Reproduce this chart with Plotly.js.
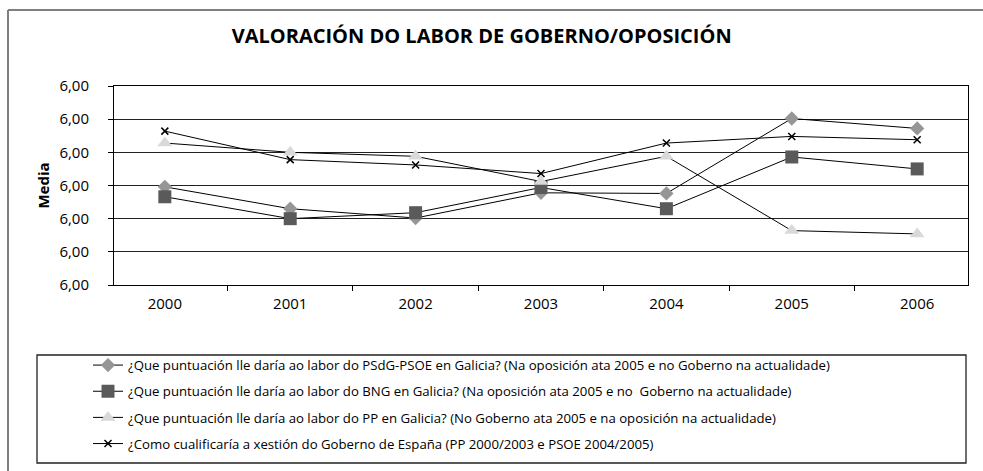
<!DOCTYPE html>
<html>
<head>
<meta charset="utf-8">
<script src="https://cdn.plot.ly/plotly-3.0.1.min.js"></script>
<style>
  html, body { margin: 0; padding: 0; background: #fff; overflow: hidden; }
  #chart { width: 983px; height: 471px; }
</style>
</head>
<body>
<div id="chart"></div>
<script>
// categories (years) and the four series
var years = ['2000', '2001', '2002', '2003', '2004', '2005', '2006'];

var psdgValues = [4.98, 4.65, 4.51, 4.89, 4.88, 6.01, 5.86];
var bngValues  = [4.83, 4.50, 4.59, 4.97, 4.65, 5.43, 5.25];
var ppValues   = [5.64, 5.50, 5.44, 5.06, 5.44, 4.32, 4.27];
var espValues  = [5.82, 5.39, 5.31, 5.18, 5.64, 5.74, 5.69];

var seriesNames = [
    '¿Que puntuación lle daría ao labor do PSdG-PSOE en Galicia? (Na oposición ata 2005 e no Goberno na actualidade)',
    '¿Que puntuación lle daría ao labor do BNG en Galicia? (Na oposición ata 2005 e no  Goberno na actualidade)',
    '¿Que puntuación lle daría ao labor do PP en Galicia? (No Goberno ata 2005 e na oposición na actualidade)',
    '¿Como cualificaría a xestión do Goberno de España (PP 2000/2003 e PSOE 2004/2005)'
];

// the original chart prints every tick as "6,00"
var yTickVals = [3.5, 4.0, 4.5, 5.0, 5.5, 6.0, 6.5];
var yTickText = ['6,00', '6,00', '6,00', '6,00', '6,00', '6,00', '6,00'];

// plot area in pixels
var W = 983, H = 471;
var M = {l: 114, r: 15, t: 86, b: 186};
var plotW = W - M.l - M.r;
var plotH = H - M.t - M.b;

// helpers: pixel position -> paper coordinate
function px2x(px) { return (px - M.l) / plotW; }
function py2y(py) { return (H - M.b - py) / plotH; }

var FONT = 'Open Sans, Liberation Sans, sans-serif';

function makeTrace(values, name, group, marker) {
    return {
        x: years,
        y: values,
        name: name,
        legendgroup: group,
        type: 'scatter',
        mode: 'lines+markers',
        line: {color: '#000', width: 1},
        marker: marker,
        cliponaxis: false
    };
}

var traces = [
    makeTrace(psdgValues, seriesNames[0], 'a', {symbol: 'diamond', size: 11, color: '#969696'}),
    makeTrace(bngValues, seriesNames[1], 'b', {symbol: 'square', size: 13, color: '#5a5a5a'}),
    makeTrace(ppValues, seriesNames[2], 'c', {symbol: 'triangle-up', size: 13, color: '#d9d9d9'}),
    makeTrace(espValues, seriesNames[3], 'd', {symbol: 'x-thin', size: 7, color: '#000', line: {color: '#000', width: 1.5}})
];

var layout = {
    width: W,
    height: H,
    margin: M,
    paper_bgcolor: '#fff',
    plot_bgcolor: '#fff',
    font: {family: FONT, size: 15, color: '#000'},
    title: {
        text: '<b>VALORACIÓN DO LABOR DE GOBERNO/OPOSICIÓN</b>',
        font: {family: FONT, size: 20, color: '#000'},
        x: 0.49, xanchor: 'center',
        y: 1 - 36 / H, yanchor: 'middle'
    },
    xaxis: {
        type: 'category',
        showline: true, linecolor: '#000', linewidth: 1, mirror: true,
        ticks: 'outside', tickson: 'boundaries', ticklen: 5, tickcolor: '#000',
        ticklabelstandoff: 5,
        showgrid: false, zeroline: false,
        tickfont: {size: 15}
    },
    yaxis: {
        range: [3.5, 6.5],
        tickvals: yTickVals,
        ticktext: yTickText,
        showline: true, linecolor: '#000', linewidth: 1, mirror: true,
        ticks: 'outside', ticklen: 5, tickcolor: '#000',
        ticklabelstandoff: 16,
        showgrid: true, gridcolor: '#222', gridwidth: 1,
        zeroline: false,
        tickfont: {size: 15},
        title: {text: '<b>Media</b>', font: {size: 15}, standoff: 6}
    },
    showlegend: true,
    legend: {
        x: px2x(88), xanchor: 'left',
        y: py2y(350), yanchor: 'top',
        bgcolor: 'rgba(0,0,0,0)',
        borderwidth: 0,
        traceorder: 'grouped',
        tracegroupgap: 6,
        font: {family: FONT, size: 13.2, color: '#000'}
    },
    shapes: [
        // outer chart frame: only the top and left sides are on the page
        {type: 'line', xref: 'paper', yref: 'paper', layer: 'below',
         x0: px2x(8), x1: px2x(983), y0: py2y(10), y1: py2y(10),
         line: {color: '#7f7f7f', width: 2}},
        {type: 'line', xref: 'paper', yref: 'paper', layer: 'below',
         x0: px2x(8), x1: px2x(8), y0: py2y(10), y1: py2y(471),
         line: {color: '#7f7f7f', width: 2}},
        // legend box
        {type: 'rect', xref: 'paper', yref: 'paper', layer: 'below',
         x0: px2x(37), x1: px2x(966), y0: py2y(463), y1: py2y(355),
         line: {color: '#222', width: 1.3}}
    ]
};

Plotly.newPlot('chart', traces, layout, {displayModeBar: false, staticPlot: true});
</script>
</body>
</html>
